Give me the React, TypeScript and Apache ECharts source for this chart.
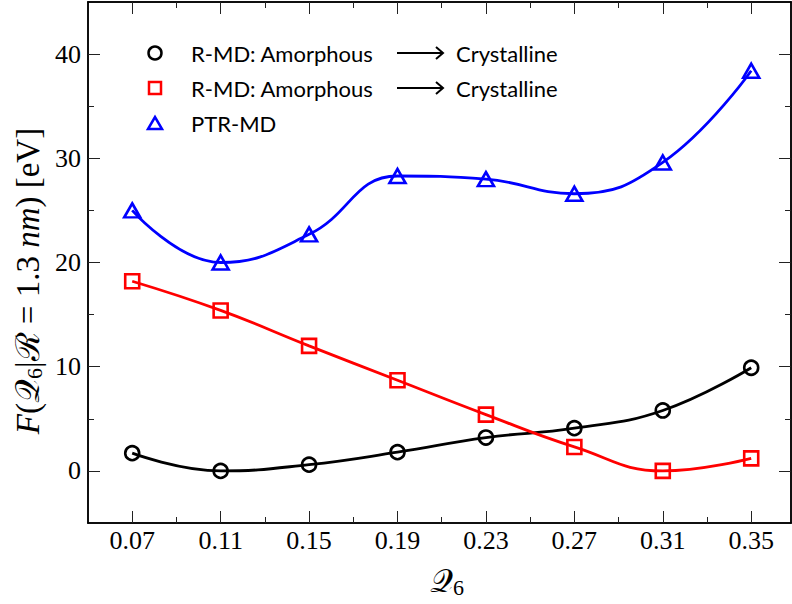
import React, { useEffect, useRef } from "react";
import * as echarts from "echarts";

const q6 = [0.07, 0.11, 0.15, 0.19, 0.23, 0.27, 0.31, 0.35];
const blackCircles = [1.7, 0.0, 0.6, 1.8, 3.2, 4.1, 5.8, 9.9];
const redSquares = [18.2, 15.4, 12.0, 8.7, 5.4, 2.3, 0.0, 1.2];
const blueTriangles = [25.0, 20.0, 22.7, 28.3, 28.0, 26.6, 29.6, 38.4];

const xMajor = [0.07, 0.11, 0.15, 0.19, 0.23, 0.27, 0.31, 0.35];
const xMinor = [0.09, 0.13, 0.17, 0.21, 0.25, 0.29, 0.33];
const yMajor = [0, 10, 20, 30, 40];
const yMinor = [5, 15, 25, 35];

const legendNames = ["R-MD: Amorphous", "R-MD: Amorphous", "PTR-MD"];

const SERIF = "'Liberation Serif', 'DejaVu Serif', serif";
const SANS = "Lato, 'Open Sans', sans-serif";

export default function App() {
  const ref = useRef<HTMLDivElement>(null);
  useEffect(() => {
    if (!ref.current) return;
    const chart = echarts.init(ref.current, null, { renderer: "svg" });
    const X_MIN = 0.05;
    const X_MAX = 0.368;
    const Y_MIN = -5;
    const Y_MAX = 45;
    const axisLine = { show: true, onZero: false, lineStyle: { color: "#000", width: 1.5 } };
    const mkX = (pos: string, vals: number[], len: number, labels: boolean) => ({
      type: "value",
      min: X_MIN,
      max: X_MAX,
      position: pos,
      axisLine,
      splitLine: { show: false },
      axisTick: { show: true, inside: true, length: len, customValues: vals, lineStyle: { color: "#222", width: 1 } },
      axisLabel: labels
        ? { show: true, customValues: xMajor, formatter: (v: number) => v.toFixed(2), fontFamily: SERIF, fontSize: 26, color: "#000", margin: 4 }
        : { show: false },
    });
    const mkY = (pos: string, vals: number[], len: number, labels: boolean) => ({
      type: "value",
      min: Y_MIN,
      max: Y_MAX,
      position: pos,
      axisLine,
      splitLine: { show: false },
      axisTick: { show: true, inside: true, length: len, customValues: vals, lineStyle: { color: "#222", width: 1 } },
      axisLabel: labels
        ? { show: true, customValues: yMajor, fontFamily: SERIF, fontSize: 26, color: "#000", margin: 7 }
        : { show: false },
    });
    const mkSeries = (name: string, ys: number[], color: string, symbol: string, size: any) => ({
      name,
      type: "line",
      xAxisIndex: 0,
      yAxisIndex: 0,
      data: q6.map((x, i) => [x, ys[i]]),
      smooth: 0.45,
      symbol,
      symbolSize: size,
      showAllSymbol: true,
      lineStyle: { color, width: 2.8 },
      itemStyle: { color: "rgba(0,0,0,0)", borderColor: color, borderWidth: 2.6 },
      z: 3,
    });
    const legendText = (y: number, t: string) => ({
      type: "text",
      x: 191,
      y,
      style: { text: t, font: `22px ${SANS}`, fill: "#000", verticalAlign: "middle", align: "left" },
    });
    const arrow = (y: number) => [
      { type: "line", shape: { x1: 397, y1: y, x2: 443, y2: y }, style: { stroke: "#000", lineWidth: 2 } },
      { type: "polyline", shape: { points: [[436, y - 6], [443, y], [436, y + 6]] }, style: { stroke: "#000", lineWidth: 2, fill: null } },
      {
        type: "text",
        x: 456,
        y,
        style: { text: "Crystalline", font: `22px ${SANS}`, fill: "#000", verticalAlign: "middle", align: "left" },
      },
    ];
    chart.setOption({
      animation: false,
      backgroundColor: "#fff",
      grid: { left: 88, top: 2, right: 1, bottom: 81, containLabel: false },
      xAxis: [
        mkX("bottom", xMajor, 12, true),
        mkX("bottom", xMinor, 6, false),
        mkX("top", xMajor, 12, false),
        mkX("top", xMinor, 6, false),
      ],
      yAxis: [
        mkY("left", yMajor, 12, true),
        mkY("left", yMinor, 6, false),
        mkY("right", yMajor, 12, false),
        mkY("right", yMinor, 6, false),
      ],
      series: [
        mkSeries("R-MD: Amorphous → Crystalline (circles)", blackCircles, "#000", "circle", 14),
        mkSeries("R-MD: Amorphous → Crystalline (squares)", redSquares, "#f00", "rect", 14),
        mkSeries("PTR-MD", blueTriangles, "#00f", "triangle", [16, 14]),
      ],
      graphic: [
        { type: "circle", shape: { cx: 155, cy: 53, r: 6.5 }, style: { stroke: "#000", lineWidth: 2.5, fill: null } },
        { type: "rect", shape: { x: 149, y: 82, width: 12, height: 12 }, style: { stroke: "#f00", lineWidth: 2.5, fill: null } },
        { type: "polygon", shape: { points: [[148, 129], [162, 129], [155, 117]] }, style: { stroke: "#00f", lineWidth: 2.5, fill: null } },
        legendText(53, legendNames[0]),
        legendText(88, legendNames[1]),
        legendText(123, legendNames[2]),
        ...arrow(53),
        ...arrow(88),
        {
          type: "text",
          x: 447,
          y: 581,
          style: {
            text: "{q|𝒬}{s|6}",
            align: "center",
            verticalAlign: "middle",
            rich: {
              q: { fontFamily: SERIF, fontSize: 32, fill: "#000" },
              s: { fontFamily: SERIF, fontSize: 22, fill: "#000", padding: [12, 0, 0, 0] },
            },
          },
        },
        {
          type: "text",
          x: 28,
          y: 281,
          rotation: Math.PI / 2,
          style: {
            text: "{i|F}{n|(}{q|𝒬}{s|6}{n||ℛ = 1.3 }{i|nm}{n|) [eV]}",
            align: "center",
            verticalAlign: "middle",
            rich: {
              i: { fontFamily: SERIF, fontStyle: "italic", fontSize: 33, fill: "#000" },
              n: { fontFamily: SERIF, fontSize: 33, fill: "#000" },
              q: { fontFamily: SERIF, fontSize: 33, fill: "#000" },
              s: { fontFamily: SERIF, fontSize: 22, fill: "#000", padding: [12, 0, 0, 0] },
            },
          },
        },
      ],
    });
    return () => chart.dispose();
  }, []);
  return <div ref={ref} style={{ position: "fixed", left: 0, top: 0, width: 792, height: 604 }} />;
}
